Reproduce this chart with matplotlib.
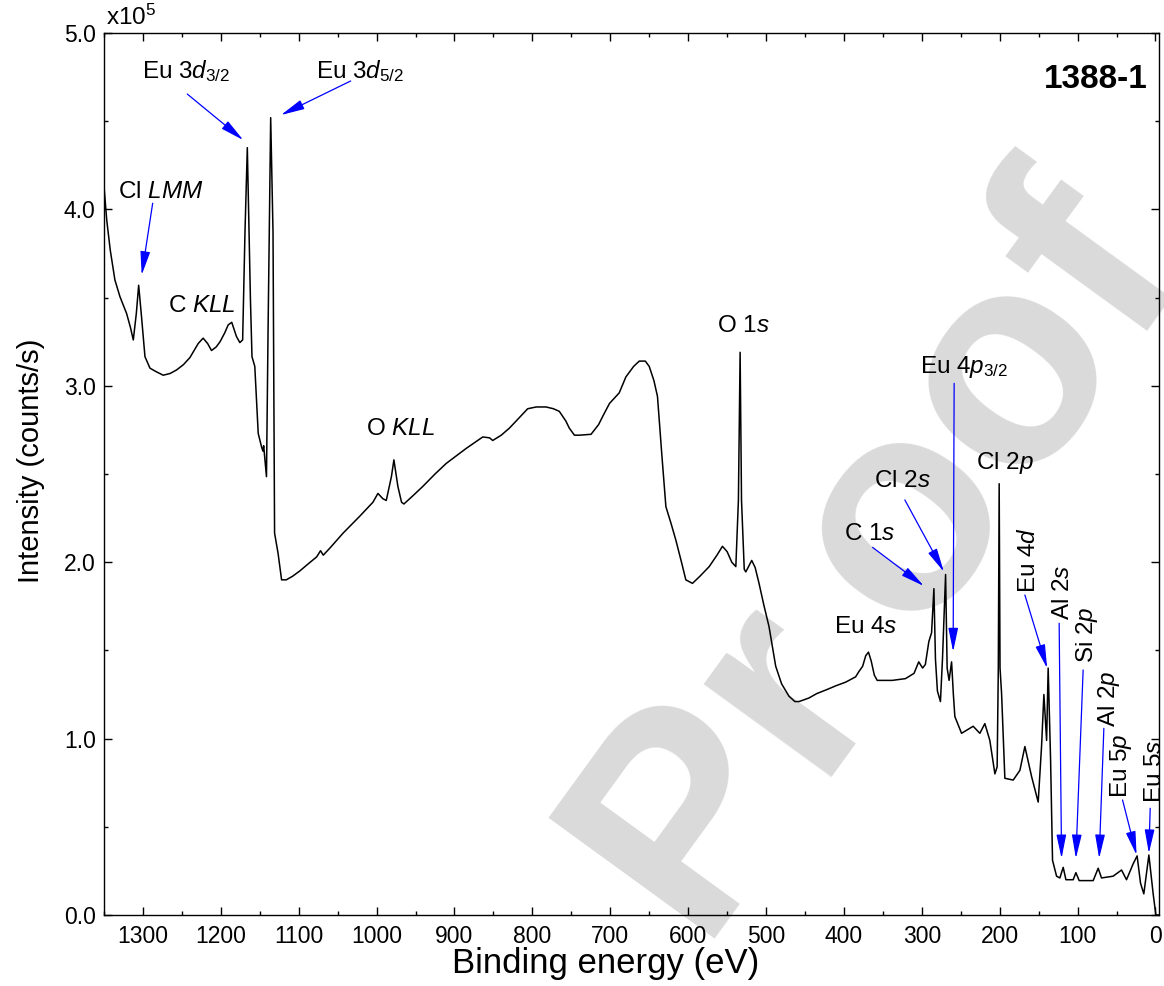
import matplotlib
matplotlib.use("Agg")
import matplotlib.pyplot as plt
from matplotlib.ticker import MultipleLocator, FormatStrFormatter

plt.rcParams['font.family'] = ['Liberation Sans', 'DejaVu Sans']
plt.rcParams['mathtext.fontset'] = 'custom'
plt.rcParams['mathtext.rm'] = 'Liberation Sans'
plt.rcParams['mathtext.it'] = 'Liberation Sans:italic'

# survey spectrum: binding energy (eV), intensity (x10^5 counts/s)
energy = [1350, 1346.5, 1342, 1336, 1329.5, 1321, 1316, 1312.4, 1308.5, 1305.5, 1302,
          1297.4, 1291, 1283, 1274, 1265, 1256.8, 1248, 1239.7, 1229, 1222.7, 1217, 1212,
          1206, 1201, 1195, 1190.6, 1186, 1180, 1175.6, 1172, 1169, 1166, 1162, 1160,
          1156.4, 1152, 1147.8, 1146, 1145, 1141.4, 1139.4, 1136, 1133, 1131, 1126.5,
          1122, 1116, 1108, 1098.7, 1088, 1077, 1072, 1068.5, 1060, 1043, 1021.8, 1004.7,
          998.3, 992, 987.6, 981, 977.8, 972.7, 968, 965, 955, 940.6, 925, 910.6, 885,
          863.7, 855, 850.9, 840, 829.5, 806, 795, 782.4, 773, 765.4, 757, 752.6, 746,
          740, 724.7, 715, 709.9, 701, 688.5, 680, 670, 662.8, 655, 650, 644, 639.4, 634,
          628.6, 622, 615.8, 608, 603, 594.5, 585, 573, 563, 556, 550, 544, 538.8, 535.5,
          533.3, 531.5, 528, 526, 518.4, 514, 509, 503, 496.2, 487.6, 480, 470.5, 463,
          457.7, 445, 435, 423.5, 410, 397.8, 385, 380.8, 376, 372, 368.5, 365, 361,
          357.3, 345, 338, 321, 310, 304, 299, 295.5, 291, 287.5, 284.5, 282.5, 280,
          276.1, 273.5, 269.5, 267.5, 265, 261.8, 259.5, 257.6, 249, 234.1, 225.5, 219.1,
          212.7, 206.2, 203.3, 201.8, 200.7, 199.6, 197.6, 193.4, 182.7, 174.1, 167.7,
          159.1, 150.6, 146.3, 143.3, 139.8, 137.8, 134.7, 132.2, 127, 122.8, 118.5, 115,
          105.7, 102.2, 98, 80, 73.6, 69.3, 54.4, 43.6, 37.2, 28.7, 23.6, 19.2, 15, 8.5,
          3, -0.5, -4.5]
intensity = [4.13, 3.94, 3.77, 3.60, 3.505, 3.41, 3.33, 3.26, 3.41, 3.57, 3.40,
             3.165, 3.10, 3.08, 3.06, 3.07, 3.09, 3.12, 3.16, 3.24, 3.27, 3.24, 3.20,
             3.22, 3.25, 3.30, 3.345, 3.36, 3.28, 3.245, 3.26, 3.87, 4.35, 3.49, 3.165,
             3.11, 2.73, 2.655, 2.63, 2.66, 2.485, 3.30, 4.52, 3.87, 2.165, 2.05,
             1.90, 1.90, 1.92, 1.95, 1.99, 2.03, 2.065, 2.04, 2.08, 2.165, 2.26, 2.34,
             2.39, 2.36, 2.35, 2.485, 2.58, 2.43, 2.34, 2.33, 2.37, 2.43, 2.50, 2.56, 2.645,
             2.71, 2.705, 2.69, 2.72, 2.76, 2.87, 2.88, 2.88, 2.87, 2.855, 2.80, 2.76, 2.72,
             2.72, 2.725, 2.78, 2.825, 2.90, 2.96, 3.05, 3.11, 3.14, 3.14, 3.11, 3.03, 2.94, 2.62,
             2.315, 2.22, 2.125, 1.99, 1.90, 1.88, 1.92, 1.975, 2.04, 2.09, 2.06, 2.00, 1.975, 2.35,
             3.19, 2.35, 1.96, 1.945, 2.01, 1.97, 1.88, 1.76, 1.635, 1.41, 1.31, 1.24, 1.21,
             1.21, 1.23, 1.255, 1.275, 1.30, 1.32, 1.35, 1.38, 1.41, 1.47, 1.49, 1.44, 1.36,
             1.33, 1.33, 1.33, 1.34, 1.37, 1.435, 1.40, 1.42, 1.55, 1.60, 1.85, 1.45, 1.27,
             1.21, 1.45, 1.93, 1.40, 1.33, 1.435, 1.25, 1.125, 1.03, 1.07, 1.03, 1.085,
             0.99, 0.80, 0.84, 1.40, 2.445, 1.40, 1.255, 0.775, 0.765, 0.82, 0.955,
             0.785, 0.64, 0.955, 1.25, 0.99, 1.40, 0.88, 0.31, 0.22, 0.21, 0.27, 0.20,
             0.20, 0.24, 0.195, 0.195, 0.265, 0.21, 0.22, 0.255, 0.20, 0.29, 0.335, 0.18, 0.12, 0.34,
             0.12, 0.0, 0.0]

# peak labels: text, arrow start, arrow tip (eV, x10^5)
labels = ['Cl $LMM$', 'Eu 3$d_{\\mathrm{3/2}}$', 'Eu 3$d_{\\mathrm{5/2}}$', 'C $KLL$', 'O $KLL$',
          'O 1$s$', 'Eu 4$p_{\\mathrm{3/2}}$', 'Cl 2$p$', 'Cl 2$s$', 'C 1$s$', 'Eu 4$s$',
          'Eu 4$d$', 'Al 2$s$', 'Si 2$p$', 'Al 2$p$', 'Eu 5$p$', 'Eu 5$s$']
label_pos = [(1332, 4.063), (1301.6, 4.743), (1077.9, 4.743), (1267.5, 3.42), (1013.7, 2.721),
             (562.7, 3.307), (302.5, 3.07), (230.6, 2.527), (361.6, 2.425), (399.7, 2.126),
             (412.5, 1.597), (154.5, 1.824), (110.8, 1.672), (80.0, 1.427), (52.2, 1.067),
             (36.8, 0.661), (-6.9, 0.633)]
label_rot = [0] * 11 + [90] * 6

arrow_from = [(1287.5, 4.035), (1243.1, 4.654), (1033.3, 4.728), (258.5, 3.014),
              (321.8, 2.353), (363.2, 2.084), (167.7, 1.814), (123.7, 1.654),
              (92.9, 1.389), (66.3, 1.058), (42.3, 0.652), (6.8, 0.605)]
arrow_to = [(1301.6, 3.628), (1171.2, 4.393), (1122.8, 4.535), (259.8, 1.493),
            (271.7, 1.946), (297.4, 1.865), (139.1, 1.399), (120.6, 0.321),
            (102.2, 0.321), (72.3, 0.321), (24.3, 0.340), (8.5, 0.350)]

fig = plt.figure(figsize=(11.64, 9.86), dpi=100)
ax = fig.add_axes([104 / 1164, 71 / 986, 1055 / 1164, 882 / 986])
ax.set_facecolor('none')

# watermark, drawn in two pieces to get the wide letter spacing of the original
wm = dict(fontsize=215, fontweight='bold', color='#dadada', rotation=54,
          va='center', rotation_mode='anchor', zorder=-5)
fig.text(0.7022, 0.3540, 'Pr', ha='right', **wm)
fig.text(0.7300, 0.3992, 'oof', ha='left', **wm)

ax.plot(energy, intensity, color='black', lw=1.1)

for txt, pos, rot in zip(labels, label_pos, label_rot):
    ax.text(pos[0], pos[1], txt, fontsize=17.5, rotation=rot, ha='left', va='baseline',
            rotation_mode='anchor')

for a, b in zip(arrow_from, arrow_to):
    ax.annotate('', xy=b, xytext=a,
                arrowprops=dict(arrowstyle='-|>,head_length=1.45,head_width=0.3',
                                color='#0000ff', lw=0.9, mutation_scale=10,
                                shrinkA=0, shrinkB=0))

ax.text(0.989, 0.947, '1388-1', transform=ax.transAxes, fontsize=24, fontweight='bold',
        ha='right', va='center')
ax.text(0.002, 1.003, 'x10$^{5}$', transform=ax.transAxes, fontsize=17.5,
        ha='left', va='bottom')

ax.set_xlim(1350, -4.5)
ax.set_ylim(0, 5)
ax.xaxis.set_major_locator(MultipleLocator(100))
ax.xaxis.set_minor_locator(MultipleLocator(50))
ax.yaxis.set_major_locator(MultipleLocator(1))
ax.yaxis.set_minor_locator(MultipleLocator(0.5))
ax.yaxis.set_major_formatter(FormatStrFormatter('%.1f'))
ax.tick_params(which='both', direction='in', top=True, right=True, width=1)
ax.tick_params(which='major', length=6, labelsize=16.5)
ax.tick_params(which='minor', length=3)
ax.tick_params(axis='x', pad=7)
ax.tick_params(axis='y', pad=6)
for s in ax.spines.values():
    s.set_linewidth(1)

ax.set_xlabel('Binding energy (eV)', fontsize=25)
ax.set_ylabel('Intensity (counts/s)', fontsize=21)
ax.xaxis.set_label_coords(0.475, -0.036)
ax.yaxis.set_label_coords(-0.056, 0.515)

fig.savefig('out.png', dpi=100)
